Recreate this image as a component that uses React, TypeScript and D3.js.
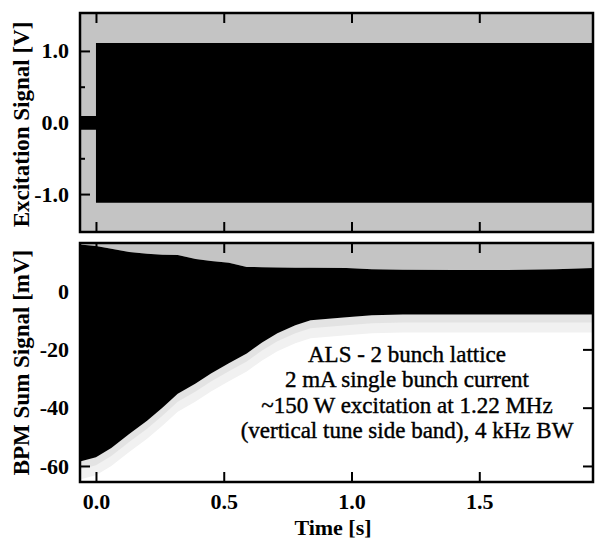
import React, { useEffect, useRef } from 'react';
import * as d3 from 'd3';

// ticks
const timeTicks = [0, 0.5, 1.0, 1.5];
const excitationTicks = [-1.0, 0.0, 1.0];
const excitationMinor = [-0.5, 0.5];
const bpmTicks = [-60, -40, -20, 0];

// excitation envelope [V]
const excitationTime = [-0.0625, 0.0, 0.0, 1.945];
const excitationUpper = [0.09, 0.09, 1.11, 1.11];
const excitationLower = [-0.1, -0.1, -1.12, -1.12];

// BPM sum signal envelope [mV]
const bpmTime = [-0.0625, 0.0, 0.06, 0.13, 0.2, 0.26, 0.32, 0.39, 0.45, 0.52, 0.59, 0.65, 0.71, 0.78, 0.84, 0.98, 1.08, 1.2, 1.4, 1.6, 1.8, 1.945];
const bpmUpper = [16, 15.5, 14.5, 13.4, 12.8, 12.5, 12.4, 11, 10.3, 9.7, 8.3, 8.2, 8.1, 8, 8, 7.9, 7.5, 7.3, 7.2, 7.2, 7.5, 7.9];
const bpmLower = [-58.5, -57, -53.8, -49, -44.5, -40, -35.2, -31.7, -28.3, -24.8, -21.4, -17.6, -14.5, -11.7, -10, -9, -8.3, -8, -8, -8, -8, -8];

const noteLines = [
  'ALS - 2 bunch lattice',
  '2 mA single bunch current',
  '~150 W excitation at 1.22 MHz',
  '(vertical tune side band), 4 kHz BW',
];

const width = 596;
const height = 539;
const left = 80;
const right = 593;
const top1 = 13, bottom1 = 232;
const top2 = 243, bottom2 = 482;
const font = '"Liberation Serif", "Times New Roman", serif';
const stipple = '#c4c4c4';

const App = () => {
  const svgRef = useRef<SVGSVGElement>(null);

  useEffect(() => {
    const svg = d3.select(svgRef.current);
    svg.selectAll('*').remove();

    const x = d3.scaleLinear().domain([-0.0625, 1.945]).range([left, right]);
    const yTop = d3.scaleLinear().domain([-1.53, 1.53]).range([bottom1, top1]);
    const yBot = d3.scaleLinear().domain([-65.5, 16.5]).range([bottom2, top2]);

    // top panel
    svg.append('rect')
      .attr('x', left).attr('y', top1)
      .attr('width', right - left).attr('height', bottom1 - top1)
      .attr('fill', stipple);

    const exData = excitationTime.map((t, i) => ({ t, hi: excitationUpper[i], lo: excitationLower[i] }));
    svg.append('path')
      .attr('fill', '#000')
      .attr('d', d3.area<any>()
        .x(d => x(d.t))
        .y0(d => yTop(d.lo))
        .y1(d => yTop(d.hi))(exData));

    // bottom panel
    const bpmData = bpmTime.map((t, i) => ({ t, hi: bpmUpper[i], lo: bpmLower[i] }));
    svg.append('rect')
      .attr('x', left).attr('y', top2)
      .attr('width', right - left).attr('height', bottom2 - top2)
      .attr('fill', '#fff');

    svg.append('path')
      .attr('fill', stipple)
      .attr('d', d3.area<any>()
        .x(d => x(d.t))
        .y0(d => yBot(d.hi))
        .y1(() => top2)(bpmData));

    // faint speckle just under the lower edge
    [[18, '#f1f1f1'], [8, '#e3e3e3']].forEach(([off, col]) => {
      svg.append('path')
        .attr('fill', col as string)
        .attr('d', d3.area<any>()
          .x(d => x(d.t))
          .y0(d => Math.min(yBot(d.lo) + (off as number), bottom2))
          .y1(d => yBot(d.lo))(bpmData));
    });

    svg.append('path')
      .attr('fill', '#000')
      .attr('d', d3.area<any>()
        .x(d => x(d.t))
        .y0(d => yBot(d.lo))
        .y1(d => yBot(d.hi))(bpmData));

    const styleAxis = (g: any) => {
      g.select('.domain').remove();
      g.selectAll('line').attr('stroke', '#000').attr('stroke-width', 2);
      g.attr('font-family', font).attr('font-size', 22).attr('font-weight', 'bold');
      g.selectAll('text').attr('fill', '#000');
    };

    // x ticks
    svg.append('g').attr('transform', `translate(0,${top1})`)
      .call(d3.axisTop(x).tickValues(timeTicks).tickSize(-10).tickFormat(() => ''))
      .call(styleAxis);
    svg.append('g').attr('transform', `translate(0,${bottom1})`)
      .call(d3.axisBottom(x).tickValues(timeTicks).tickSize(-10).tickFormat(() => ''))
      .call(styleAxis);
    svg.append('g').attr('transform', `translate(0,${top2})`)
      .call(d3.axisTop(x).tickValues(timeTicks).tickSize(-10).tickFormat(() => ''))
      .call(styleAxis);
    svg.append('g').attr('transform', `translate(0,${bottom2})`)
      .call(d3.axisBottom(x).tickValues(timeTicks).tickSize(-10).tickPadding(11)
        .tickFormat((d: any) => d.toFixed(1)))
      .call(styleAxis);

    // y ticks, top panel
    svg.append('g').attr('transform', `translate(${left},0)`)
      .call(d3.axisLeft(yTop).tickValues(excitationTicks).tickSize(-10).tickPadding(11)
        .tickFormat((d: any) => d.toFixed(1)))
      .call(styleAxis);
    svg.append('g').attr('transform', `translate(${left},0)`)
      .call(d3.axisLeft(yTop).tickValues(excitationMinor).tickSize(-5).tickFormat(() => ''))
      .call(styleAxis);
    svg.append('g').attr('transform', `translate(${right},0)`)
      .call(d3.axisRight(yTop).tickValues(excitationTicks).tickSize(-10).tickFormat(() => ''))
      .call(styleAxis);
    svg.append('g').attr('transform', `translate(${right},0)`)
      .call(d3.axisRight(yTop).tickValues(excitationMinor).tickSize(-5).tickFormat(() => ''))
      .call(styleAxis);

    // y ticks, bottom panel
    svg.append('g').attr('transform', `translate(${left},0)`)
      .call(d3.axisLeft(yBot).tickValues(bpmTicks).tickSize(-10).tickPadding(11)
        .tickFormat((d: any) => String(d)))
      .call(styleAxis);
    svg.append('g').attr('transform', `translate(${right},0)`)
      .call(d3.axisRight(yBot).tickValues(bpmTicks).tickSize(-10).tickFormat(() => ''))
      .call(styleAxis);

    // frames
    [[top1, bottom1], [top2, bottom2]].forEach(([t, b]) => {
      svg.append('rect')
        .attr('x', left).attr('y', t)
        .attr('width', right - left).attr('height', b - t)
        .attr('fill', 'none').attr('stroke', '#000').attr('stroke-width', 2.5);
    });

    // axis titles
    svg.append('text')
      .attr('transform', `translate(29,${(top1 + bottom1) / 2 + 2}) rotate(-90)`)
      .attr('text-anchor', 'middle')
      .attr('font-family', font).attr('font-size', 23).attr('font-weight', 'bold')
      .text('Excitation Signal [V]');
    svg.append('text')
      .attr('transform', `translate(29,${(top2 + bottom2) / 2}) rotate(-90)`)
      .attr('text-anchor', 'middle')
      .attr('font-family', font).attr('font-size', 23).attr('font-weight', 'bold')
      .text('BPM Sum Signal [mV]');
    svg.append('text')
      .attr('x', 333).attr('y', 535)
      .attr('text-anchor', 'middle')
      .attr('font-family', font).attr('font-size', 22).attr('font-weight', 'bold')
      .text('Time [s]');

    // annotation
    svg.append('g')
      .attr('font-family', font).attr('font-size', 23)
      .attr('text-anchor', 'middle')
      .selectAll('text')
      .data(noteLines)
      .join('text')
      .attr('x', 407)
      .attr('y', (d, i) => 362 + i * 25.3)
      .attr('stroke', '#000').attr('stroke-width', 0.4)
      .text(d => d);
  }, []);

  return (
    <svg ref={svgRef} width={width} height={height}
      style={{ position: 'absolute', left: 0, top: 0, background: '#fff' }} />
  );
};

export default App;
